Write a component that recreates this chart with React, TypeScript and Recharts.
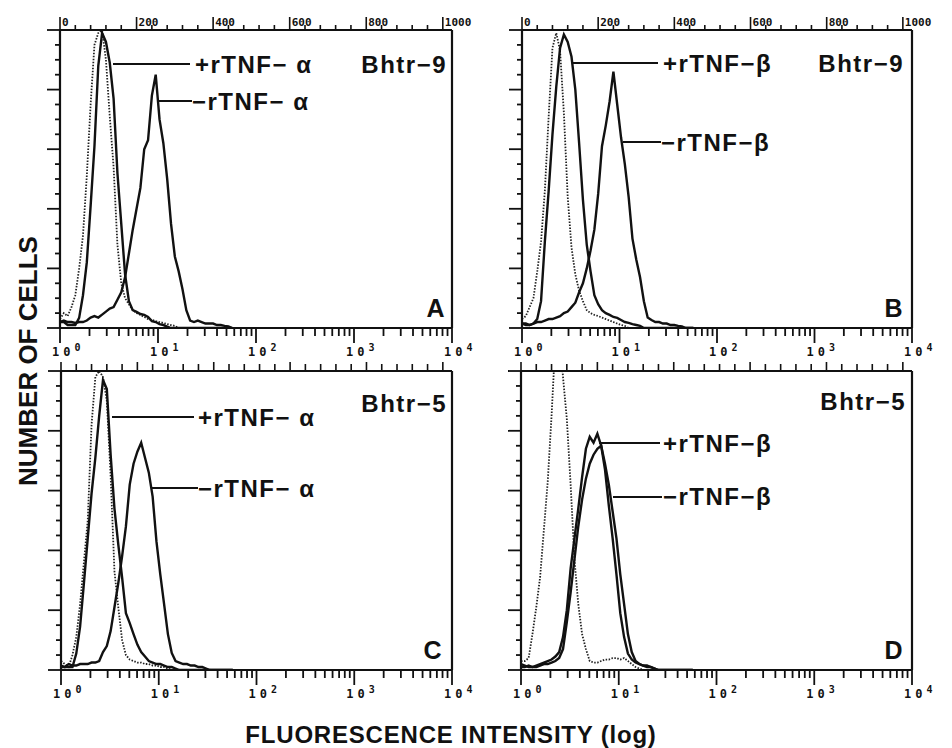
import React from 'react';
import { LineChart, Line, XAxis, YAxis } from 'recharts';

const W = 952;
const H = 748;
const INK = '#111';
const SANS = '"Liberation Sans", Arial, Helvetica, sans-serif';
const MONO = '"DejaVu Sans Mono", "Liberation Mono", monospace';

// histogram bins (channel number, 1024 channels over 4 decades)
const channels = [
  0, 10, 20, 30, 40, 50, 60, 70, 80, 90,
  100, 110, 120, 130, 140, 150, 160, 170, 180, 190,
  200, 210, 220, 230, 240, 250, 260, 270, 280, 290,
  300, 310, 320, 330, 340, 350, 360, 370, 380, 390,
  400, 410, 420, 430, 440, 450,
];

// A: Bhtr-9, rTNF-alpha
const ctrlA = [
  3, 5, 4, 7, 11, 20, 31, 51, 75, 95,
  99, 100, 90, 71, 54, 28, 15, 10, 8, 6,
  5, 4.4, 3.7, 3, 2.7, 2.3, 2, 1.7, 1.3, 1,
  0.7, 0, 0, 0, 0, 0, 0, 0, 0, 0,
  0, 0, 0, 0, 0, 0,
];
const plusA = [
  2, 2, 1, 1, 1, 3.4, 11, 22, 41, 61,
  88, 99, 96, 89, 77, 52, 35, 18, 9, 6,
  5.4, 4.7, 4.4, 3.7, 2.3, 2, 1.3, 1, 0.5, 0,
  0, 0, 0, 0, 0, 0, 0, 0, 0, 0,
  0, 0, 0, 0, 0, 0,
];
const minusA = [
  2, 2.5, 2, 2, 1.7, 2, 2, 2.5, 3.5, 4,
  3.5, 4.5, 5.5, 6.5, 7, 9.5, 12, 17, 25, 33,
  40, 47, 60, 63, 78, 85, 70, 62, 50, 35,
  24, 19, 13, 6, 2.5, 2, 2.5, 2, 1.5, 1.5,
  1.5, 1, 1, 0.7, 0.5, 0,
];

// B: Bhtr-9, rTNF-beta
const ctrlB = [
  3, 4, 7, 10, 19, 29, 46, 71, 94, 99,
  93, 72, 44, 27, 18, 12.5, 9, 6, 5, 4.4,
  4, 3.5, 3, 2.5, 2, 1.5, 1, 0.7, 0, 0,
  0, 0, 0, 0, 0, 0, 0, 0, 0, 0,
  0, 0, 0, 0, 0, 0,
];
const plusB = [
  1.5, 1, 1, 1.5, 3, 9, 29, 46, 65, 81,
  94, 98.5, 96, 91, 80, 62, 43, 28, 19, 11,
  8, 6, 5, 4.4, 3.7, 3.4, 2.7, 2, 1.7, 1.3,
  1, 0.7, 0, 0, 0, 0, 0, 0, 0, 0,
  0, 0, 0, 0, 0, 0,
];
const minusB = [
  1.5, 1.5, 1, 1.5, 2, 2, 2.5, 3, 3, 3.5,
  4, 5, 5.5, 7, 8.5, 12, 15, 20, 26, 33,
  45, 61, 68, 76, 86, 75, 64, 55, 44, 30,
  23, 17, 9, 3.5, 2.7, 2, 2, 1.5, 1.5, 1,
  1, 0.7, 0.5, 0, 0, 0,
];

// C: Bhtr-5, rTNF-alpha
const ctrlC = [
  3, 2, 1, 5, 11, 22, 36, 50, 82, 98,
  100, 98, 90, 65, 33, 21, 10, 5, 3.5, 3,
  2.5, 2.5, 2, 2, 1.5, 1.5, 1, 1, 0.5, 0,
  0, 0, 0, 0, 0, 0, 0, 0, 0, 0,
  0, 0, 0, 0, 0, 0,
];
const plusC = [
  1, 1, 1, 1, 5.5, 14.5, 29, 44, 59, 71,
  85, 97, 94, 72, 54, 42, 31, 19, 15.7, 12,
  8.5, 6, 4.5, 3, 2.5, 2, 2, 1.5, 1, 1,
  0.5, 0, 0, 0, 0, 0, 0, 0, 0, 0,
  0, 0, 0, 0, 0, 0,
];
const minusC = [
  1.5, 1, 2, 1.5, 1.5, 2, 2, 2, 2.5, 2.5,
  3, 6, 8, 13, 21, 29, 38, 48, 62, 69,
  73, 76, 71, 66, 58, 43, 32, 22, 12, 5.7,
  3, 2.5, 2, 2, 1.5, 1.5, 1, 1, 0.5, 0,
  0, 0, 0, 0, 0, 0,
];

// D: Bhtr-5, rTNF-beta
const ctrlD = [
  3, 3, 4, 12, 21, 31, 47, 63, 85, 110,
  115, 98, 84, 62, 37, 22, 12, 7, 3, 2.5,
  2.5, 3, 3.5, 3.5, 4, 4, 3.5, 4, 3, 2,
  1, 0.5, 0, 0, 0, 0, 0, 0, 0, 0,
  0, 0, 0, 0, 0, 0,
];
const plusD = [
  2, 1.5, 1, 1, 1.5, 2, 2.5, 3, 3.5, 4.5,
  6, 11, 20, 34, 44, 54, 64.5, 74, 78, 76,
  79, 75, 67, 55, 44, 32, 19, 11, 5.5, 3.5,
  2.5, 2, 1.5, 1.5, 1, 0.5, 0, 0, 0, 0,
  0, 0, 0, 0, 0, 0,
];
const minusD = [
  1, 1, 1.5, 1, 1, 1.5, 2, 2, 2.5, 3,
  4, 7, 16, 26, 37, 48, 57, 64, 69, 72,
  74, 75, 69, 62, 53, 44, 32, 22, 12, 6,
  3, 2, 1.5, 1, 1, 0.5, 0, 0, 0, 0,
  0, 0, 0, 0, 0, 0,
];

const decadeExponents = ['0', '1', '2', '3', '4'];
const channelLabels = [0, 200, 400, 600, 800, 1000];

// axis tick positions
const logTicks: number[] = [];
for (let d = 0; d < 4; d++) {
  for (let k = 1; k < 10; k++) logTicks.push(256 * (d + Math.log10(k)));
}
logTicks.push(1024);
const channelTicks = Array.from({ length: 26 }, (_, i) => i * 40);
const countTicks = Array.from({ length: 21 }, (_, i) => i * 5);

type Box = { l: number; t: number; r: number; b: number };

type PanelDef = {
  id: string;
  box: Box;
  ctrl: number[];
  plus: number[];
  minus: number[];
  channelAxisLabels: boolean;
};

const panels: PanelDef[] = [
  { id: 'A', box: { l: 60, t: 30, r: 452, b: 328 }, ctrl: ctrlA, plus: plusA, minus: minusA, channelAxisLabels: true },
  { id: 'B', box: { l: 522, t: 30, r: 912, b: 328 }, ctrl: ctrlB, plus: plusB, minus: minusB, channelAxisLabels: true },
  { id: 'C', box: { l: 61, t: 371, r: 452, b: 670 }, ctrl: ctrlC, plus: plusC, minus: minusC, channelAxisLabels: false },
  { id: 'D', box: { l: 521, t: 371, r: 912, b: 670 }, ctrl: ctrlD, plus: plusD, minus: minusD, channelAxisLabels: false },
];

const isDecade = (v: number) => Math.abs(v / 256 - Math.round(v / 256)) < 1e-6;

function Histogram({ p }: { p: PanelDef }) {
  const { box } = p;
  const data = channels.map((ch, i) => ({ ch, ctrl: p.ctrl[i], plus: p.plus[i], minus: p.minus[i] }));

  const logTick = (props: any) => {
    const { x, payload } = props;
    const v = payload.value;
    const major = isDecade(v);
    return (
      <g>
        <line x1={x} x2={x} y1={box.b} y2={box.b + (major ? 15 : 8)} stroke={INK} strokeWidth={1.8} />
        {major && (
          <text x={x - 8} y={box.b + 28} fontFamily={MONO} fontWeight={700} fontSize={12} fill={INK}>
            <tspan letterSpacing={4}>10</tspan>
            <tspan dy={-5} fontSize={10}>{decadeExponents[Math.round(v / 256)]}</tspan>
          </text>
        )}
      </g>
    );
  };

  const chanTick = (props: any) => {
    const { x, payload } = props;
    const v = payload.value;
    const major = channelLabels.includes(v);
    if (!p.channelAxisLabels) {
      return <line x1={x} x2={x} y1={box.t} y2={box.t - (major ? 9 : 7)} stroke={INK} strokeWidth={1.6} />;
    }
    return (
      <g>
        <line x1={x} x2={x} y1={box.t} y2={box.t - (major ? 13 : 5)} stroke={INK} strokeWidth={1.6} />
        {major && (
          <text x={x + 2} y={box.t - 4} fontFamily={MONO} fontWeight={700} fontSize={11} fill={INK}>
            {v}
          </text>
        )}
      </g>
    );
  };

  const countTick = (props: any) => {
    const { y, payload } = props;
    const major = payload.value % 20 === 0;
    return <line x1={box.l - (major ? 13 : 5)} x2={box.l} y1={y} y2={y} stroke={INK} strokeWidth={1.8} />;
  };

  const axisLine = { stroke: INK, strokeWidth: 2.2 };

  // each axis is 1px thick, so margins leave exactly the panel box as plot area
  return (
    <div style={{ position: 'absolute', left: 0, top: 0 }}>
      <LineChart
        width={W}
        height={H}
        data={data}
        margin={{ top: box.t - 1, left: box.l - 1, right: W - box.r - 1, bottom: H - box.b - 1 }}
      >
        <XAxis
          xAxisId="log"
          dataKey="ch"
          type="number"
          domain={[0, 1024]}
          ticks={logTicks}
          interval={0}
          height={1}
          tickSize={0}
          tickMargin={0}
          tickLine={false}
          axisLine={axisLine}
          tick={logTick}
          allowDataOverflow
        />
        <XAxis
          xAxisId="chan"
          orientation="top"
          dataKey="ch"
          type="number"
          domain={[0, 1024]}
          ticks={channelTicks}
          interval={0}
          height={1}
          tickSize={0}
          tickMargin={0}
          tickLine={false}
          axisLine={axisLine}
          tick={chanTick}
          allowDataOverflow
        />
        <YAxis
          yAxisId="count"
          type="number"
          domain={[0, 100]}
          ticks={countTicks}
          interval={0}
          width={1}
          tickSize={0}
          tickMargin={0}
          tickLine={false}
          axisLine={axisLine}
          tick={countTick}
          allowDataOverflow
        />
        <YAxis
          yAxisId="edge"
          orientation="right"
          type="number"
          domain={[0, 100]}
          width={1}
          tick={false}
          tickLine={false}
          axisLine={axisLine}
        />
        <Line
          xAxisId="log"
          yAxisId="count"
          dataKey="ctrl"
          type="linear"
          stroke="#222"
          strokeWidth={1.8}
          strokeDasharray="1.5 1.5"
          dot={false}
          isAnimationActive={false}
        />
        <Line
          xAxisId="log"
          yAxisId="count"
          dataKey="minus"
          type="linear"
          stroke={INK}
          strokeWidth={2.4}
          dot={false}
          isAnimationActive={false}
        />
        <Line
          xAxisId="log"
          yAxisId="count"
          dataKey="plus"
          type="linear"
          stroke={INK}
          strokeWidth={2.4}
          dot={false}
          isAnimationActive={false}
        />
      </LineChart>
    </div>
  );
}

type Note = { text: string; x: number; y: number; anchor: 'start' | 'end'; size: number };
const notes: Note[] = [
  { text: 'Bhtr\u22129', x: 447, y: 73, anchor: 'end', size: 24 },
  { text: '+rTNF\u2212 \u03b1', x: 195, y: 73, anchor: 'start', size: 24 },
  { text: '\u2212rTNF\u2212 \u03b1', x: 192, y: 110, anchor: 'start', size: 24 },
  { text: 'A', x: 446, y: 317, anchor: 'end', size: 25 },
  { text: 'Bhtr\u22129', x: 904, y: 72, anchor: 'end', size: 24 },
  { text: '+rTNF\u2212\u03b2', x: 663, y: 72, anchor: 'start', size: 24 },
  { text: '\u2212rTNF\u2212\u03b2', x: 661, y: 151, anchor: 'start', size: 24 },
  { text: 'B', x: 904, y: 317, anchor: 'end', size: 25 },
  { text: 'Bhtr\u22125', x: 447, y: 412, anchor: 'end', size: 24 },
  { text: '+rTNF\u2212 \u03b1', x: 198, y: 426, anchor: 'start', size: 24 },
  { text: '\u2212rTNF\u2212 \u03b1', x: 198, y: 497, anchor: 'start', size: 24 },
  { text: 'C', x: 443, y: 659, anchor: 'end', size: 25 },
  { text: 'Bhtr\u22125', x: 906, y: 410, anchor: 'end', size: 24 },
  { text: '+rTNF\u2212\u03b2', x: 663, y: 452, anchor: 'start', size: 24 },
  { text: '\u2212rTNF\u2212\u03b2', x: 663, y: 505, anchor: 'start', size: 24 },
  { text: 'D', x: 904, y: 659, anchor: 'end', size: 25 },
];

// leader lines from each curve to its label: [x1, x2, y]
const leaders = [
  [113, 190, 64],
  [158, 192, 101],
  [573, 658, 63],
  [623, 661, 142],
  [112, 194, 417],
  [152, 198, 488],
  [599, 660, 443],
  [613, 662, 497],
];

export default function App() {
  return (
    <div style={{ position: 'absolute', left: 0, top: 0, width: W, height: H, background: '#fff', overflow: 'hidden' }}>
      {panels.map((p) => (
        <Histogram key={p.id} p={p} />
      ))}
      <svg width={W} height={H} style={{ position: 'absolute', left: 0, top: 0, pointerEvents: 'none' }}>
        {leaders.map(([x1, x2, y], i) => (
          <line key={i} x1={x1} x2={x2} y1={y} y2={y} stroke={INK} strokeWidth={2.2} />
        ))}
        {notes.map((n, i) => (
          <text
            key={i}
            x={n.x}
            y={n.y}
            textAnchor={n.anchor}
            fontFamily={SANS}
            fontWeight={700}
            fontSize={n.size}
            letterSpacing={1.5}
            fill={INK}
          >
            {n.text}
          </text>
        ))}
        <text
          transform="translate(37,361) rotate(-90)"
          textAnchor="middle"
          fontFamily={SANS}
          fontWeight={700}
          fontSize={26}
          fill={INK}
        >
          NUMBER OF CELLS
        </text>
        <text x={451} y={743} textAnchor="middle" fontFamily={SANS} fontWeight={700} fontSize={24} letterSpacing={0.8} fill={INK}>
          FLUORESCENCE INTENSITY (log)
        </text>
      </svg>
    </div>
  );
}
